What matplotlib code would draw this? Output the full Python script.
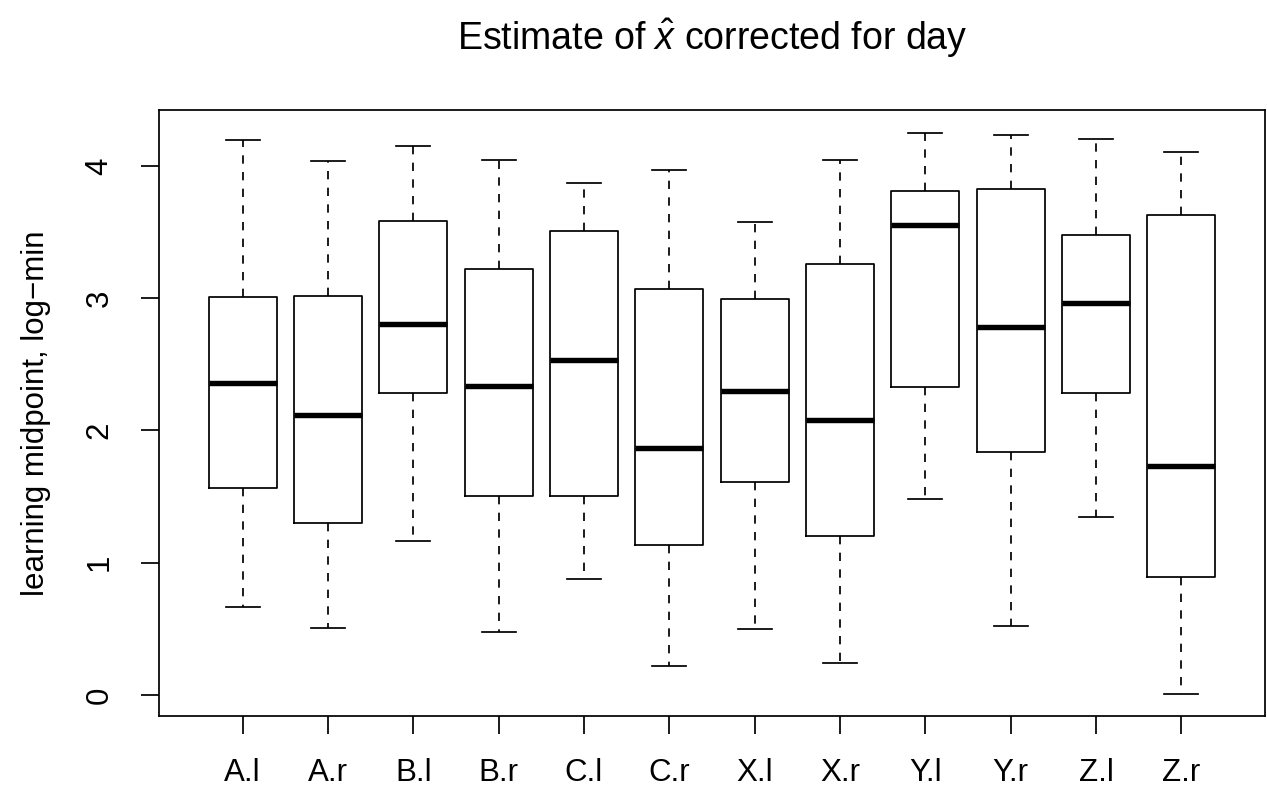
import matplotlib

matplotlib.use("Agg")
import matplotlib.pyplot as plt

# group labels and five-number summaries
groups = ["A.l", "A.r", "B.l", "B.r", "C.l", "C.r", "X.l", "X.r", "Y.l", "Y.r", "Z.l", "Z.r"]
whisker_low = [0.667, 0.503, 1.167, 0.479, 0.877, 0.218, 0.497, 0.242, 1.484, 0.521, 1.346, 0.006]
q1 = [1.562, 1.298, 2.283, 1.508, 1.505, 1.131, 1.610, 1.203, 2.328, 1.840, 2.283, 0.892]
median = [2.358, 2.119, 2.806, 2.340, 2.531, 1.870, 2.298, 2.082, 3.554, 2.782, 2.962, 1.735]
q3 = [3.007, 3.019, 3.587, 3.222, 3.512, 3.067, 2.998, 3.258, 3.809, 3.829, 3.482, 3.629]
whisker_high = [4.200, 4.040, 4.150, 4.050, 3.871, 3.973, 3.578, 4.045, 4.251, 4.236, 4.206, 4.108]

plt.rcParams["font.family"] = ["Liberation Sans", "DejaVu Sans"]
plt.rcParams["mathtext.fontset"] = "custom"
plt.rcParams["mathtext.rm"] = "Liberation Sans"
plt.rcParams["mathtext.it"] = "Liberation Sans:italic"

stats = []
for i, name in enumerate(groups):
    stats.append({
        "label": name,
        "whislo": whisker_low[i],
        "q1": q1[i],
        "med": median[i],
        "q3": q3[i],
        "whishi": whisker_high[i],
    })

fig = plt.figure(figsize=(12.67, 7.9), dpi=100)
ax = fig.add_axes([0.1255, 0.0937, 0.9984 - 0.1255, 0.8608 - 0.0937])

lw = 1.25
ax.bxp(
    stats,
    positions=range(1, len(groups) + 1),
    widths=0.8,
    capwidths=0.4,
    showfliers=False,
    boxprops=dict(color="black", linewidth=lw),
    whiskerprops=dict(color="black", linewidth=lw, linestyle=(0, (4.8, 4.8))),
    capprops=dict(color="black", linewidth=lw),
    medianprops=dict(color="black", linewidth=3.9, solid_capstyle="butt"),
)

ax.set_xlim(0.02, 12.98)
ax.set_ylim(-0.16, 4.425)
ax.set_yticks([0, 1, 2, 3, 4])
ax.set_yticklabels(["0", "1", "2", "3", "4"], rotation=90, va="center")

for s in ax.spines.values():
    s.set_linewidth(lw)
ax.tick_params(axis="both", direction="out", length=13, width=lw, labelsize=22.5)
ax.tick_params(axis="x", pad=17)
ax.tick_params(axis="y", pad=19)

ax.set_ylabel("learning midpoint, log\u2212min", fontsize=22.5, labelpad=24)
fig.text(0.562, 0.951, r"Estimate of $\hat{x}$ corrected for day",
         ha="center", va="center", fontsize=27)

fig.savefig("out.png", dpi=100)
plt.close(fig)
